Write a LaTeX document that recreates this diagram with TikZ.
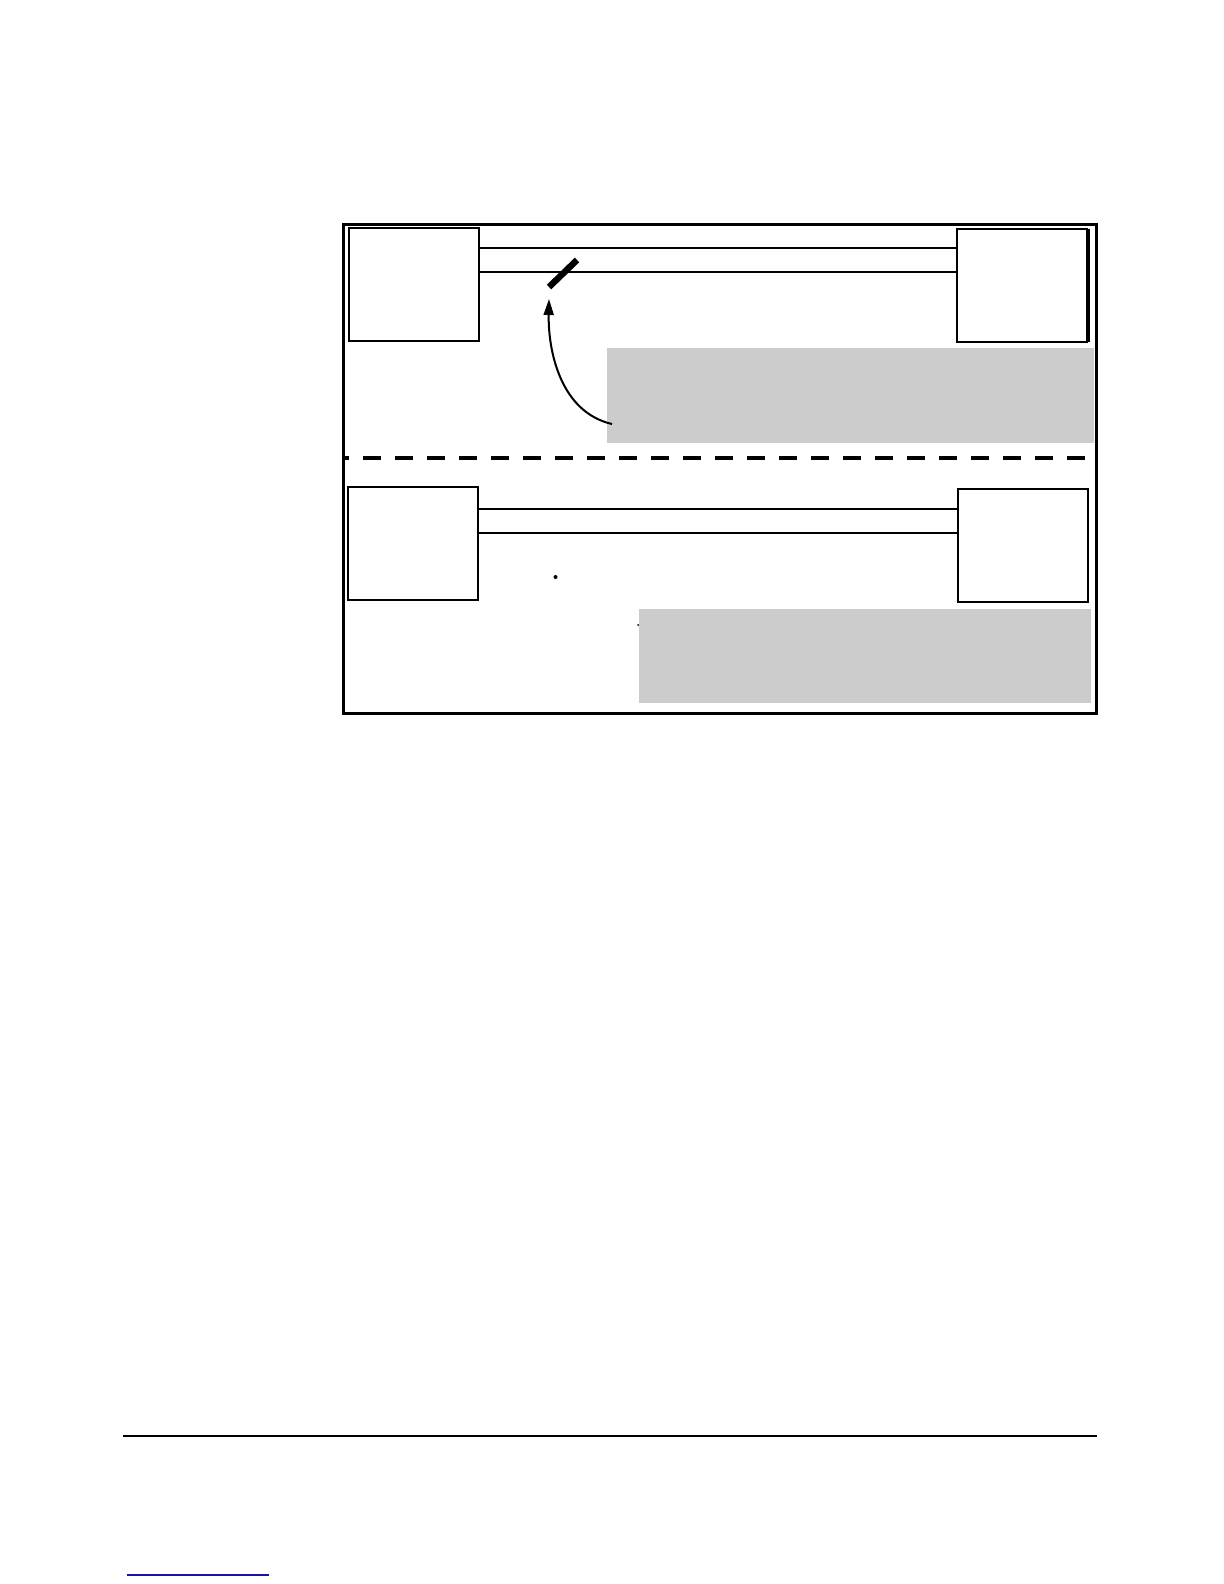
\documentclass[tikz,border=0pt]{standalone}
\usetikzlibrary{arrows.meta,calc}
\definecolor{panelgray}{RGB}{204,204,204}
\definecolor{linkblue}{RGB}{20,20,170}
\tikzset{
  unitbox/.style={draw=black,line width=1pt,fill=white,anchor=north west,
    minimum width=65pt,minimum height=56.5pt,inner sep=0pt,outer sep=0pt},
  graypanel/.style={fill=panelgray,draw=none,anchor=north west,inner sep=0pt,outer sep=0pt},
  frameline/.style={line width=1.5pt},
  linkthick/.style={line width=1pt},
  linkthin/.style={line width=0.8pt},
  divider/.style={line width=1.6pt,dash pattern=on 8.75pt off 7.25pt,dash phase=6pt},
  curvearrow/.style={line width=1pt,-{Triangle[length=8pt,width=5pt]}},
}
\begin{document}
\begin{tikzpicture}[x=0.5pt,y=-0.5pt]
\useasboundingbox[fill=white] (0,0) rectangle (1224,1584);

% outer frame
\draw[frameline] (343,224) rectangle (1096,713);

% gray panels
\node[graypanel,minimum width=243.5pt,minimum height=47.5pt] (g1) at (607,348) {};
\node[graypanel,minimum width=226pt,minimum height=47pt] (g2) at (639,609) {};

% upper section boxes
\node[unitbox] (tl) at (349,228) {};
\node[unitbox] (tr) at (957,229) {};
\draw[line width=1.4pt] ([xshift=0.6pt]tr.north east) -- ([xshift=0.6pt]tr.south east);

% upper links
\draw[linkthick] ([yshift=-10pt]tl.north east) -- ([yshift=-10pt]tl.north east -| tr.west);
\draw[linkthin] ([yshift=-22pt]tl.north east) -- ([yshift=-22pt]tl.north east -| tr.west);

% break mark
\coordinate (brkA) at (549,287);
\coordinate (brkB) at (577,260);
\draw[line width=3.2pt] (brkA) -- (brkB);

% curved arrow from panel to break
\coordinate (arrS) at (612,424);
\coordinate (arrE) at (549,299);
\draw[curvearrow] (arrS) .. controls (560,412) and (548,350) .. (arrE);

% dashed divider
\coordinate (dvL) at (343,458);
\coordinate (dvR) at (1096,458);
\draw[divider] (dvL) -- (dvR);

% lower section boxes
\node[unitbox] (bl) at (348,487) {};
\node[unitbox] (br) at (958,489) {};

% lower links
\draw[linkthick] ([yshift=-11pt]bl.north east) -- ([yshift=-11pt]bl.north east -| br.west);
\draw[linkthick] ([yshift=-23pt]bl.north east) -- ([yshift=-23pt]bl.north east -| br.west);

% small specks
\fill (555.5,577) circle[radius=2];
\fill (638,625) circle[radius=1];

% footer rule
\coordinate (ruleL) at (123,1436);
\coordinate (ruleR) at (1097,1436);
\draw[line width=1pt] (ruleL) -- (ruleR);

% blue underline
\coordinate (blL) at (127,1575);
\coordinate (blR) at (269,1575);
\draw[linkblue,line width=0.8pt] (blL) -- (blR);
\end{tikzpicture}
\end{document}
